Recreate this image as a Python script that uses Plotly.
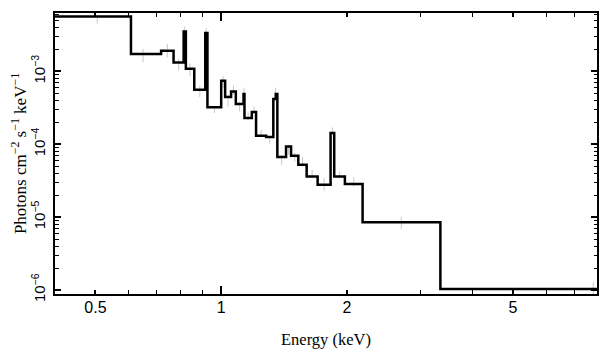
import plotly.graph_objects as go

# Model step spectrum: bin edges (keV) and model flux per bin
bin_edges = [0.40, 0.608, 0.718, 0.769, 0.813, 0.823, 0.862, 0.916, 0.927, 1.0,
             1.022, 1.056, 1.084, 1.131, 1.137, 1.184, 1.212, 1.281, 1.333, 1.351,
             1.363, 1.430, 1.470, 1.530, 1.602, 1.702, 1.828, 1.865, 1.978, 2.181,
             3.349, 7.95]
model_flux = [5.69e-3, 1.73e-3, 1.92e-3, 1.33e-3, 3.54e-3, 1.09e-3, 5.61e-4, 3.37e-3,
              3.22e-4, 7.45e-4, 4.47e-4, 5.31e-4, 3.56e-4, 4.90e-4, 2.29e-4, 2.77e-4,
              1.31e-4, 1.26e-4, 4.18e-4, 4.90e-4, 6.67e-5, 9.33e-5, 6.95e-5, 5.23e-5,
              3.61e-5, 2.78e-5, 1.43e-4, 3.61e-5, 2.86e-5, 8.53e-6, 1.03e-6]

# Data points (grey error bars)
data_energy = [0.505, 0.650, 0.743, 0.791, 0.818, 0.842, 0.889, 0.921, 0.963, 1.011,
               1.039, 1.070, 1.107, 1.134, 1.160, 1.198, 1.246, 1.307, 1.350, 1.396,
               1.450, 1.500, 1.566, 1.651, 1.764, 1.846, 1.921, 2.077, 2.70, 7.78]
data_flux = [4.97e-3, 1.65e-3, 1.92e-3, 1.24e-3, 3.62e-3, 1.05e-3, 5.31e-4, 3.40e-3,
             2.98e-4, 7.22e-4, 3.98e-4, 5.52e-4, 3.30e-4, 4.79e-4, 2.46e-4, 2.98e-4,
             1.43e-4, 1.15e-4, 5.08e-4, 6.12e-5, 8.40e-5, 6.62e-5, 5.75e-5, 3.94e-5,
             2.81e-5, 1.53e-4, 3.81e-5, 3.05e-5, 8.36e-6, 1.03e-6]
data_lo = [4.52e-3, 1.33e-3, 1.56e-3, 1.03e-3, 3.09e-3, 8.73e-4, 4.45e-4, 2.90e-3,
           2.68e-4, 5.97e-4, 3.30e-4, 4.79e-4, 2.82e-4, 3.83e-4, 2.17e-4, 2.74e-4,
           1.28e-4, 1.02e-4, 4.35e-4, 5.23e-5, 7.18e-5, 5.80e-5, 4.95e-5, 3.43e-5,
           2.30e-5, 1.35e-4, 3.43e-5, 2.63e-5, 6.84e-6, 8.0e-7]
data_hi = [5.47e-3, 2.05e-3, 2.38e-3, 1.49e-3, 4.15e-3, 1.28e-3, 6.36e-4, 3.94e-3,
           3.31e-4, 8.54e-4, 4.79e-4, 6.37e-4, 3.87e-4, 5.97e-4, 2.74e-4, 3.30e-4,
           1.58e-4, 1.28e-4, 5.97e-4, 7.18e-5, 9.84e-5, 7.57e-5, 6.73e-5, 4.47e-5,
           3.47e-5, 1.70e-4, 4.22e-5, 3.54e-5, 1.02e-5, 1.29e-6]

x_tick_vals = [0.5, 1, 2, 5]
x_tick_text = ["0.5", "1", "2", "5"]
x_decade_vals = [1]
x_minor_vals = [0.4, 0.6, 0.7, 0.8, 0.9, 3, 4, 6, 7, 8]
y_tick_vals = [1e-6, 1e-5, 1e-4, 1e-3]
y_tick_text = ["10<sup>−6</sup>", "10<sup>−5</sup>", "10<sup>−4</sup>", "10<sup>−3</sup>"]
y_minor_vals = [m * 10.0 ** e for e in (-7, -6, -5, -4, -3) for m in range(2, 10)]

x_range = [-0.398, 0.9]
y_range = [-6.055, -2.198]

fig = go.Figure()

fig.add_trace(go.Scatter(
    x=data_energy, y=data_flux, mode="markers",
    marker=dict(size=1, color="rgba(0,0,0,0)"),
    error_y=dict(type="data", symmetric=False,
                 array=[h - f for h, f in zip(data_hi, data_flux)],
                 arrayminus=[f - l for f, l in zip(data_flux, data_lo)],
                 color="#c8c8c8", thickness=1, width=0),
    showlegend=False, hoverinfo="skip"))

fig.add_trace(go.Scatter(
    x=bin_edges, y=model_flux + [model_flux[-1]], mode="lines",
    line=dict(shape="hv", color="black", width=2.5),
    showlegend=False))

axis_common = dict(showline=True, linecolor="black", linewidth=2, mirror="ticks",
                   ticks="inside", tickcolor="black", tickwidth=1.5,
                   showgrid=False, zeroline=False, automargin=False)

fig.update_xaxes(type="log", range=x_range,
                 tickvals=x_tick_vals, ticktext=x_tick_text, ticklen=4,
                 minor=dict(tickvals=x_minor_vals, ticks="inside", ticklen=4,
                            tickcolor="black", tickwidth=1.3, showgrid=False),
                 tickfont=dict(family="Liberation Sans, Arial", size=16, color="black"),
                 ticklabelstandoff=-2,
                 title=dict(text="Energy (keV)", standoff=18,
                            font=dict(family="Liberation Serif, Times New Roman", size=16.5, color="black")),
                 **axis_common)

fig.update_yaxes(type="log", range=y_range,
                 tickvals=y_tick_vals, ticktext=y_tick_text, ticklen=6, tickangle=-90,
                 minor=dict(tickvals=y_minor_vals, ticks="inside", ticklen=3.5,
                            tickcolor="black", tickwidth=1.3, showgrid=False),
                 tickfont=dict(family="Liberation Sans, Arial", size=15, color="black"),
                 ticklabelstandoff=2,
                 title=dict(text="Photons cm<sup>−2</sup> s<sup>−1</sup> keV<sup>−1</sup>", standoff=4,
                            font=dict(family="Liberation Serif, Times New Roman", size=17, color="black")),
                 **axis_common)

# Overlay axis carrying the longer decade tick at 1 keV (top and bottom)
fig.update_layout(xaxis2=dict(type="log", range=x_range, overlaying="x", side="bottom",
                              tickvals=x_decade_vals, ticks="inside", ticklen=8,
                              tickwidth=1.5, tickcolor="black", mirror="ticks",
                              showline=False, showgrid=False, zeroline=False,
                              showticklabels=False, automargin=False))
fig.add_trace(go.Scatter(x=[1], y=[1e-4], xaxis="x2", mode="markers",
                         marker=dict(size=1, color="rgba(0,0,0,0)"),
                         showlegend=False, hoverinfo="skip"))

# The page body adds an 8px offset, so the figure is sized/margined to compensate
fig.update_layout(width=601, height=349,
                  margin=dict(l=47, r=12, t=5, b=63),
                  paper_bgcolor="white", plot_bgcolor="white")

fig.write_html("out.html")
